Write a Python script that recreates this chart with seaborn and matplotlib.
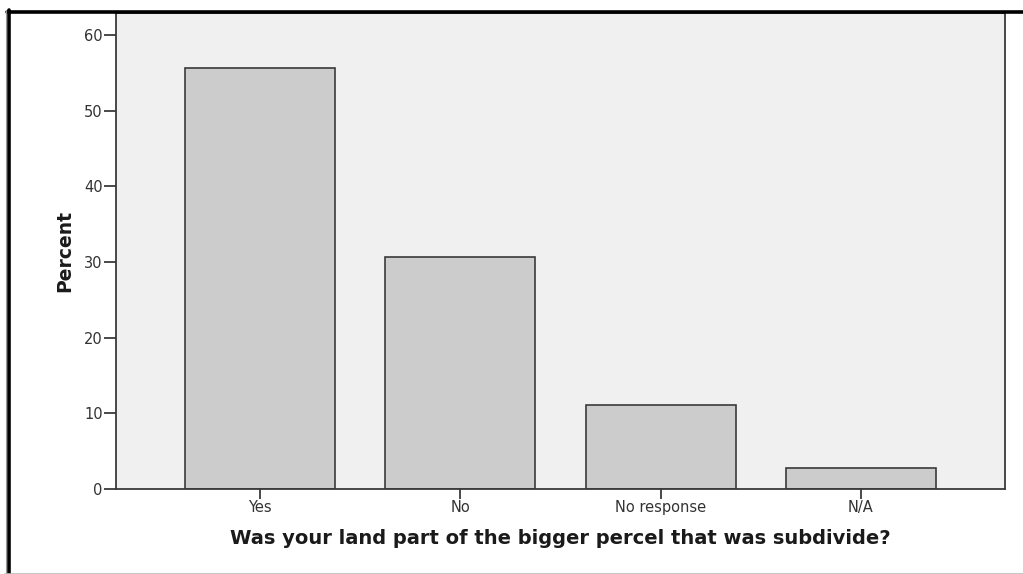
import matplotlib
matplotlib.use('Agg')
import matplotlib.pyplot as plt
from matplotlib.lines import Line2D
import pandas as pd
import seaborn as sns

# answers and percentages (n = 36)
answers = ['Yes', 'No', 'No response', 'N/A']
percent = [55.6, 30.6, 11.1, 2.8]
y_ticks = [0, 10, 20, 30, 40, 50, 60]

df = pd.DataFrame({'answer': answers, 'percent': percent})

sns.set_style('white')
plt.rcParams['font.family'] = ['DejaVu Sans']

fig = plt.figure(figsize=(10.23, 5.74), dpi=100)
ax = fig.add_axes([116 / 1023, 85 / 574, 889 / 1023, 476 / 574])
ax.set_facecolor('#f0f0f0')

sns.barplot(data=df, x='answer', y='percent', order=answers, color='#cccccc',
            saturation=1, width=0.75, edgecolor='#3a3a3a', linewidth=1.2, ax=ax)

ax.set_xlim(-0.72, 3.72)
ax.set_ylim(0, 62.9)
ax.set_yticks(y_ticks)

for side in ['left', 'bottom', 'right', 'top']:
    ax.spines[side].set_visible(True)
    ax.spines[side].set_color('#3a3a3a')
    ax.spines[side].set_linewidth(1.3)

ax.tick_params(axis='both', direction='out', width=1.3, color='#3a3a3a',
               labelsize=10.5, labelcolor='#333333', pad=1, left=True, bottom=True)
ax.tick_params(axis='y', length=8.5)
ax.tick_params(axis='x', length=7)

ax.set_xlabel('Was your land part of the bigger percel that was subdivide?',
              fontweight='bold', fontsize=14, color='#1a1a1a', labelpad=10)
ax.set_ylabel('Percent', fontweight='bold', fontsize=13.5, color='#1a1a1a',
              labelpad=7)

# outer frame of the exported picture
fig.add_artist(Line2D([7 / 1023, 1], [1 - 11.5 / 574, 1 - 11.5 / 574],
                      color='black', lw=2.6, transform=fig.transFigure))
fig.add_artist(Line2D([8.5 / 1023, 8.5 / 1023], [0, 1 - 10 / 574],
                      color='black', lw=2.6, transform=fig.transFigure))
fig.add_artist(Line2D([5.5 / 1023, 5.5 / 1023], [0, 1 - 10 / 574],
                      color='#999999', lw=0.8, transform=fig.transFigure))
fig.add_artist(Line2D([5 / 1023, 1], [0.5 / 574, 0.5 / 574],
                      color='#bbbbbb', lw=1.2, transform=fig.transFigure))

fig.savefig('out.png', dpi=100)
